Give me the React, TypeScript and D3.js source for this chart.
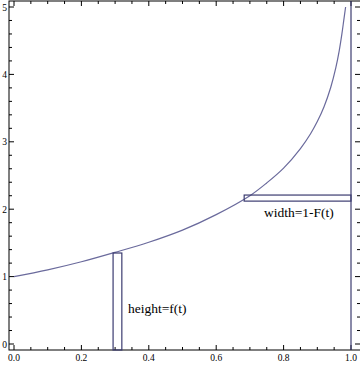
import React from "react";
import * as d3 from "d3";

// Curve values: t and f(t)
const curveT = [0, 0.1, 0.2, 0.3, 0.4, 0.5, 0.6, 0.7, 0.75, 0.8, 0.85, 0.88, 0.9, 0.92, 0.94, 0.955, 0.965, 0.973, 0.979, 0.984];
const curveF = [1.0, 1.1, 1.22, 1.36, 1.51, 1.69, 1.92, 2.2, 2.39, 2.61, 2.9, 3.12, 3.3, 3.52, 3.81, 4.1, 4.35, 4.6, 4.82, 5.0];

// Narrow bar: height = f(t)
const barT = [0.294, 0.32];
const barTop = 1.35;
// Horizontal bar: width = 1 - F(t)
const hBarT = [0.683, 1.0];
const hBarY = [2.12, 2.21];

const xTicks = [0, 0.2, 0.4, 0.6, 0.8, 1.0];
const xTickLabels = ["0.0", "0.2", "0.4", "0.6", "0.8", "1.0"];
const yTicks = [0, 1, 2, 3, 4, 5];
const yTickLabels = ["0", "1", "2", "3", "4", "5"];

const labelHeight = "height=f(t)";
const labelWidth = "width=1-F(t)";

export default function App() {
  const W = 360, H = 367;
  const left = 9, right = 360.5, top = 1, bottom = 350;
  const x = d3.scaleLinear().domain([0, 1]).range([14, 351]);
  const y = d3.scaleLinear().domain([0, 5]).range([344, 7]);
  const yMin = y.invert(bottom);

  const pts: [number, number][] = curveT.map((t, i) => [t, curveF[i]]);
  const line = d3
    .line<[number, number]>()
    .x((d) => x(d[0]))
    .y((d) => y(d[1]))
    .curve(d3.curveCatmullRom.alpha(0.5));

  const xMinor = d3.range(0, 1.0001, 0.05).filter((v) => Math.abs(v * 5 - Math.round(v * 5)) > 1e-6);
  const yMinor = d3.range(0, 5.0001, 0.2).filter((v) => Math.abs(v - Math.round(v)) > 1e-6);

  const axisColor = "#000";
  const curveColor = "#6a6a9c";
  const rectColor = "#3c3c70";

  return (
    <svg width={W} height={H} style={{ position: "absolute", left: 0, top: 0, background: "#fff" }}>
      {/* frame */}
      <rect x={left} y={top} width={right - left} height={bottom - top} fill="none" stroke={axisColor} strokeWidth={1} />
      {/* x ticks bottom & top */}
      {xTicks.map((t) => (
        <g key={"xt" + t}>
          <line x1={x(t)} x2={x(t)} y1={bottom} y2={bottom - 5} stroke={axisColor} />
          <line x1={x(t)} x2={x(t)} y1={top} y2={top + 5} stroke={axisColor} />
        </g>
      ))}
      {xMinor.map((t) => (
        <g key={"xm" + t}>
          <line x1={x(t)} x2={x(t)} y1={bottom} y2={bottom - 3} stroke={axisColor} />
          <line x1={x(t)} x2={x(t)} y1={top} y2={top + 3} stroke={axisColor} />
        </g>
      ))}
      {xTicks.map((t, i) => (
        <text key={"xl" + t} x={x(t)} y={361} fontSize={9.5} fontFamily="Liberation Serif" textAnchor="middle">
          {xTickLabels[i]}
        </text>
      ))}
      {/* y ticks left & right */}
      {yTicks.map((v) => (
        <g key={"yt" + v}>
          <line x1={left} x2={left + 5} y1={y(v)} y2={y(v)} stroke={axisColor} />
          <line x1={right} x2={right - 5.5} y1={y(v)} y2={y(v)} stroke={axisColor} />
        </g>
      ))}
      {yMinor.map((v) => (
        <g key={"ym" + v}>
          <line x1={left} x2={left + 3} y1={y(v)} y2={y(v)} stroke={axisColor} />
          <line x1={right} x2={right - 3.5} y1={y(v)} y2={y(v)} stroke={axisColor} />
        </g>
      ))}
      {yTicks.map((v, i) => (
        <text key={"yl" + v} x={7} y={y(v) + 3.5} fontSize={9.5} fontFamily="Liberation Serif" textAnchor="end">
          {yTickLabels[i]}
        </text>
      ))}
      {/* vertical line at t=1 */}
      <line x1={x(1)} x2={x(1)} y1={bottom} y2={top} stroke={rectColor} strokeWidth={1.2} />
      {/* curve */}
      <path d={line(pts) || ""} fill="none" stroke={curveColor} strokeWidth={1.2} />
      {/* narrow bar */}
      <rect
        x={x(barT[0])}
        y={y(barTop)}
        width={x(barT[1]) - x(barT[0])}
        height={y(yMin) - y(barTop)}
        fill="none"
        stroke={rectColor}
        strokeWidth={1.2}
      />
      {/* horizontal bar */}
      <rect
        x={x(hBarT[0])}
        y={y(hBarY[1])}
        width={x(hBarT[1]) - x(hBarT[0])}
        height={y(hBarY[0]) - y(hBarY[1])}
        fill="none"
        stroke={rectColor}
        strokeWidth={1.2}
      />
      <text x={128} y={313} fontSize={13.5} fontFamily="Liberation Serif">
        {labelHeight}
      </text>
      <text x={264} y={217} fontSize={13.5} fontFamily="Liberation Serif">
        {labelWidth}
      </text>
    </svg>
  );
}
